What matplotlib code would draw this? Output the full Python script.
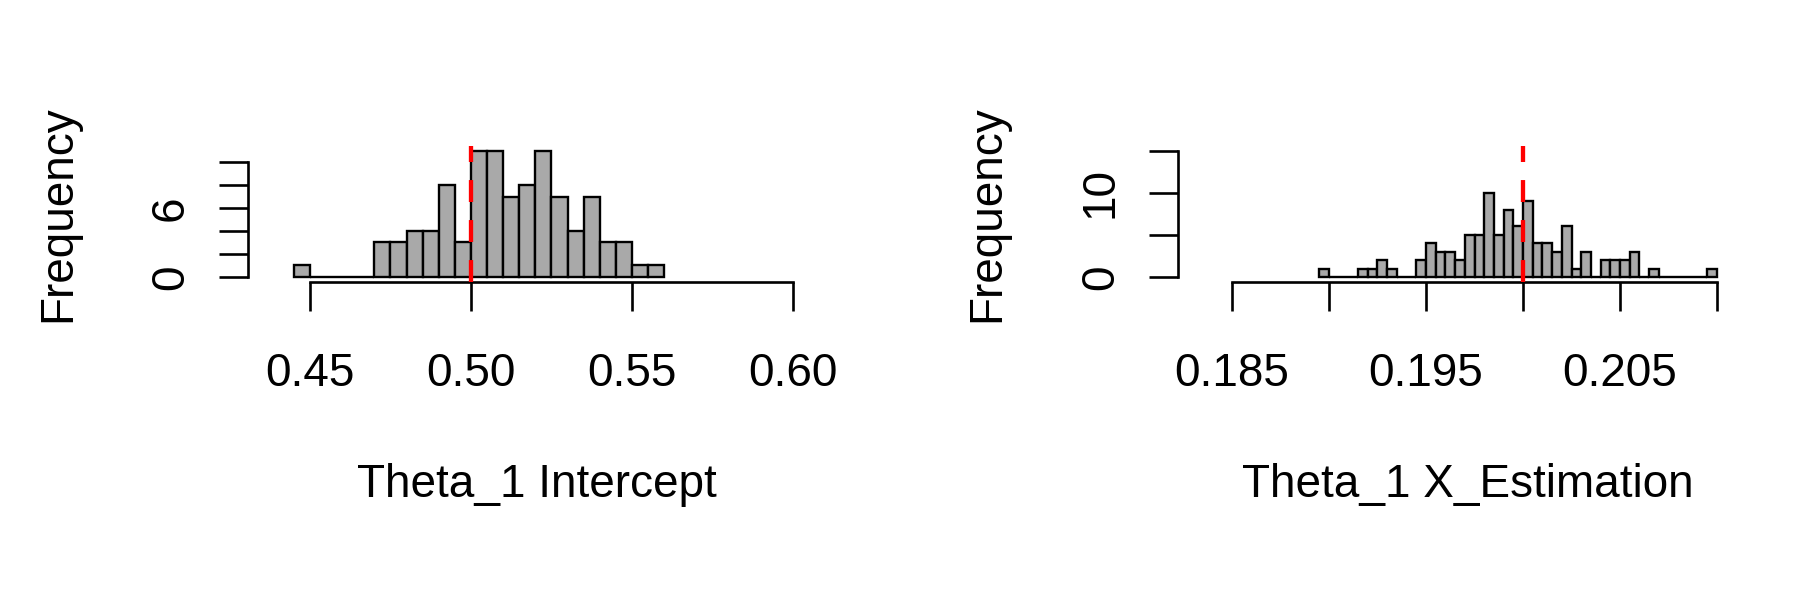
import matplotlib
matplotlib.use("Agg")
import matplotlib.pyplot as plt
import numpy as np

plt.rcParams['font.family'] = ['Liberation Sans', 'DejaVu Sans']
plt.rcParams['lines.scale_dashes'] = False

# left histogram: Theta_1 Intercept
int_start = 0.445
int_binw = 0.005
int_counts = [1, 0, 0, 0, 0, 3, 3, 4, 4, 8, 3, 11, 11, 7, 8, 11, 7, 4, 7, 3, 3, 1, 1]
int_true = 0.50
int_xticks = [0.45, 0.50, 0.55, 0.60]
int_xlabels = ['0.45', '0.50', '0.55', '0.60']
int_yticks = [0, 2, 4, 6, 8, 10]
int_ylabels = ['0', '', '', '6', '', '']

# right histogram: Theta_1 X_Estimation
est_start = 0.1895
est_binw = 0.0005
est_counts = [1, 0, 0, 0, 1, 1, 2, 1, 0, 0, 2, 4, 3, 3, 2, 5, 5, 10, 5, 8, 6,
              9, 4, 4, 3, 6, 1, 3, 0, 2, 2, 2, 3, 0, 1, 0, 0, 0, 0, 0, 1]
est_true = 0.200
est_xticks = [0.185, 0.190, 0.195, 0.200, 0.205, 0.210]
est_xlabels = ['0.185', '', '0.195', '', '0.205', '']
est_yticks = [0, 5, 10, 15]
est_ylabels = ['0', '', '10', '']

W, H = 1818, 590
fig = plt.figure(figsize=(W / 100, H / 100), dpi=100)
fig.patch.set_facecolor('white')

FS = 33
LW = 1.9


def px_axes(left, top, right, bottom):
    return fig.add_axes([left / W, (H - bottom) / H, (right - left) / W, (bottom - top) / H])


def draw_hist(ax, start, binw, counts, true_val, xlim, ylim,
              xticks, xlabels, yticks, ylabels, xlabel):
    counts = np.array(counts)
    edges = start + binw * np.arange(len(counts))
    ax.bar(edges, counts, width=binw, align='edge', color='#A9A9A9',
           edgecolor='black', linewidth=1.7, zorder=2)
    # dashed reference line, dash pattern starts at the bottom like R's abline
    ax.axvline(true_val, color='#FF0000', linewidth=3.1, dashes=(15.8, 13.0), zorder=3)
    ax.set_xlim(*xlim)
    ax.set_ylim(*ylim)

    for s in ['top', 'right']:
        ax.spines[s].set_visible(False)
    for s in ['left', 'bottom']:
        ax.spines[s].set_linewidth(LW)
    ax.spines['left'].set_bounds(yticks[0], yticks[-1])
    ax.spines['bottom'].set_bounds(xticks[0], xticks[-1])

    ax.set_xticks(xticks)
    ax.set_xticklabels(xlabels)
    ax.set_yticks(yticks)
    ax.set_yticklabels(ylabels, rotation=90, va='center')
    ax.tick_params(axis='x', length=21, width=LW, pad=29.5, labelsize=FS)
    ax.tick_params(axis='y', length=21, width=LW, pad=18.7, labelsize=FS)

    ax.set_xlabel(xlabel, fontsize=FS)
    ax.set_ylabel('Frequency', fontsize=FS)
    ax.xaxis.set_label_coords(0.5, -1.326)
    ax.yaxis.set_label_coords(-0.2907, 0.5)


ax1 = px_axes(248, 145.5, 826, 282)
draw_hist(ax1, int_start, int_binw, int_counts, int_true,
          (0.43075, 0.61025), (-0.44, 11.44),
          int_xticks, int_xlabels, int_yticks, int_ylabels, 'Theta_1 Intercept')

ax2 = px_axes(1178, 145.5, 1758, 282)
draw_hist(ax2, est_start, est_binw, est_counts, est_true,
          (0.18222, 0.21211), (-0.6, 15.6),
          est_xticks, est_xlabels, est_yticks, est_ylabels, 'Theta_1 X_Estimation')

fig.savefig('out.png', dpi=100, facecolor='white')
